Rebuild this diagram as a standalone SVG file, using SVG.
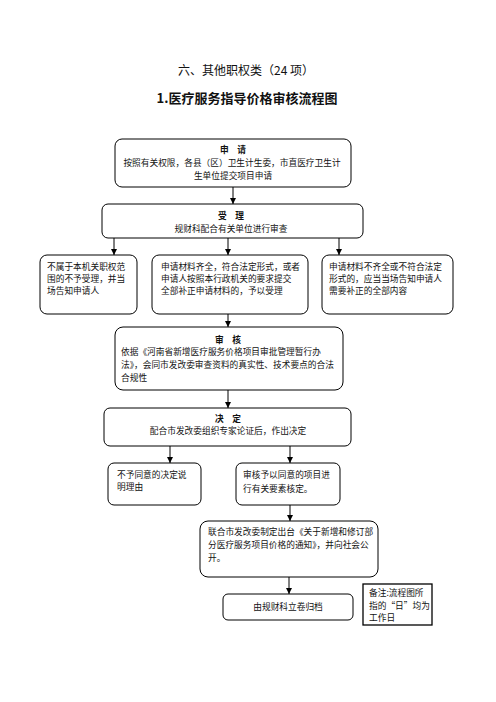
<svg xmlns="http://www.w3.org/2000/svg" width="496" height="702" viewBox="0 0 496 702">
<defs>
<marker id="ah" viewBox="0 0 8 8" refX="8" refY="4" markerWidth="6" markerHeight="6" markerUnits="userSpaceOnUse" orient="auto">
<path d="M0,0 L8,4 L0,8 z" fill="#000"/>
</marker>
<style>
.box{fill:#fff;stroke:#000;stroke-width:1}
.t{font-family:"Noto Sans CJK SC","Liberation Serif",serif;font-size:8.7px;fill:#111}
.c{text-anchor:middle}
.b{font-weight:bold}
.ln{stroke:#000;stroke-width:1;fill:none;marker-end:url(#ah)}
</style>
</defs>
<rect width="496" height="702" fill="#fff"/>
<text x="246" y="75" class="t c" style="font-size:12px">六、其他职权类（24 项）</text>
<text x="247" y="103" class="t c b" style="font-size:13px">1.医疗服务指导价格审核流程图</text>

<g id="connectors">
<line x1="233" y1="187" x2="233" y2="204" class="ln"/>
<line x1="114" y1="238" x2="114" y2="255" class="ln"/>
<line x1="228" y1="238" x2="228" y2="255" class="ln"/>
<line x1="339" y1="238" x2="339" y2="255" class="ln"/>
<line x1="228" y1="314" x2="228" y2="327" class="ln"/>
<line x1="228" y1="390" x2="228" y2="408" class="ln"/>
<line x1="170" y1="446" x2="170" y2="463" class="ln"/>
<line x1="290" y1="446" x2="290" y2="463" class="ln"/>
<line x1="290" y1="505" x2="290" y2="521" class="ln"/>
<line x1="289" y1="577" x2="289" y2="594" class="ln"/>
</g>

<g id="n1">
<rect x="115" y="139" width="236" height="48" rx="7" class="box"/>
<text x="233" y="153" class="t c b">申　请</text>
<text x="232" y="166" class="t c">按照有关权限，各县（区）卫生计生委，市直医疗卫生计</text>
<text x="233" y="179" class="t c">生单位提交项目申请</text>
</g>

<g id="n2">
<rect x="102" y="204" width="261" height="34" rx="6" class="box"/>
<text x="231" y="219" class="t c b">受　理</text>
<text x="231" y="232" class="t c">规财科配合有关单位进行审查</text>
</g>

<g id="n3a">
<rect x="40" y="255" width="97" height="59" rx="7" class="box"/>
<text x="47" y="270" class="t">不属于本机关职权范</text>
<text x="47" y="282" class="t">围的不予受理，并当</text>
<text x="47" y="294" class="t">场告知申请人</text>
</g>

<g id="n3b">
<rect x="152" y="255" width="156" height="59" rx="7" class="box"/>
<text x="161" y="270" class="t">申请材料齐全，符合法定形式，或者</text>
<text x="161" y="282" class="t">申请人按照本行政机关的要求提交</text>
<text x="161" y="294" class="t">全部补正申请材料的，予以受理</text>
</g>

<g id="n3c">
<rect x="322" y="255" width="131" height="59" rx="7" class="box"/>
<text x="329" y="270" class="t">申请材料不齐全或不符合法定</text>
<text x="329" y="282" class="t">形式的，应当当场告知申请人</text>
<text x="329" y="294" class="t">需要补正的全部内容</text>
</g>

<g id="n4">
<rect x="115" y="327" width="228" height="63" rx="8" class="box"/>
<text x="228" y="343" class="t c b">审　核</text>
<text x="121" y="355" class="t">依据《河南省新增医疗服务价格项目审批管理暂行办</text>
<text x="121" y="368" class="t">法》，会同市发改委审查资料的真实性、技术要点的合法</text>
<text x="121" y="381" class="t">合规性</text>
</g>

<g id="n5">
<rect x="104" y="408" width="247" height="38" rx="6" class="box"/>
<text x="228" y="422" class="t c b">决　定</text>
<text x="228" y="434" class="t c">配合市发改委组织专家论证后，作出决定</text>
</g>

<g id="n6a">
<rect x="108" y="463" width="93" height="42" rx="6" class="box"/>
<text x="117" y="478" class="t">不予同意的决定说</text>
<text x="117" y="490" class="t">明理由</text>
</g>

<g id="n6b">
<rect x="236" y="463" width="104" height="42" rx="6" class="box"/>
<text x="243" y="478" class="t">审核予以同意的项目进</text>
<text x="243" y="492" class="t">行有关要素核定。</text>
</g>

<g id="n7">
<rect x="200" y="521" width="178" height="56" rx="8" class="box"/>
<text x="208" y="535" class="t">联合市发改委制定出台《关于新增和修订部</text>
<text x="208" y="548" class="t">分医疗服务项目价格的通知》，并向社会公</text>
<text x="208" y="561" class="t">开。</text>
</g>

<g id="n8">
<rect x="223" y="594" width="130" height="26" rx="5" class="box"/>
<text x="288" y="610" class="t c">由规财科立卷归档</text>
</g>

<g id="note">
<rect x="363" y="584" width="69" height="41" fill="#fff" stroke="#000" stroke-width="1.3"/>
<text x="369" y="596" class="t">备注:流程图所</text>
<text x="369" y="609" class="t">指的“日”均为</text>
<text x="369" y="621" class="t">工作日</text>
</g>
</svg>
